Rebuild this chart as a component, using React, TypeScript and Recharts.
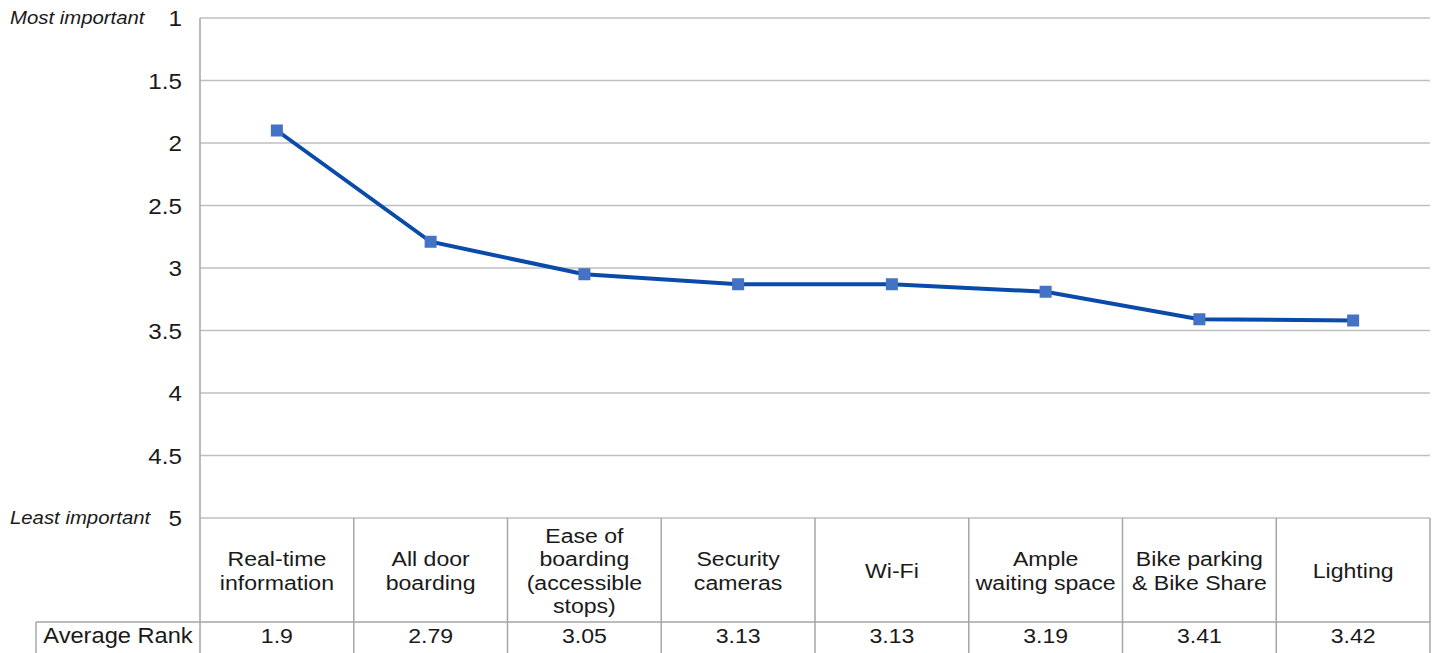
import React from "react";
import { LineChart, Line, XAxis, YAxis, CartesianGrid } from "recharts";

const categories = [
  "Real-time\ninformation",
  "All door\nboarding",
  "Ease of\nboarding\n(accessible\nstops)",
  "Security\ncameras",
  "Wi-Fi",
  "Ample\nwaiting space",
  "Bike parking\n& Bike Share",
  "Lighting",
];
const averageRank = [1.9, 2.79, 3.05, 3.13, 3.13, 3.19, 3.41, 3.42];
const rankTicks = [1, 1.5, 2, 2.5, 3, 3.5, 4, 4.5, 5];

const data = categories.map((name, i) => ({ name, rank: averageRank[i] }));

const FONT = "'Liberation Sans', Arial, Helvetica, sans-serif";
const GRID = "#bfbfbf";
const BORDER = "#a6a6a6";
const SX = 1.1;

// text slightly widened to match the reference's wide Helvetica rendering
const T = ({ x, y, size, anchor = "middle", italic = false, children }: any) => (
  <text
    transform={`translate(${x},${y}) scale(${SX},1)`}
    x={0}
    y={0}
    textAnchor={anchor}
    fontSize={size}
    fontStyle={italic ? "italic" : "normal"}
    fill="#1a1a1a"
    fontFamily={FONT}
  >
    {children}
  </text>
);

const YTick = (props: any) => {
  const { x, y, payload } = props;
  const v = payload.value;
  return (
    <g>
      {v === 1 && (
        <T x={10} y={y + 6} size={18.5} anchor="start" italic>
          Most important
        </T>
      )}
      {v === 5 && (
        <T x={10} y={y + 6} size={18.5} anchor="start" italic>
          Least important
        </T>
      )}
      <T x={x} y={y + 8} size={22} anchor="end">
        {v}
      </T>
    </g>
  );
};

const XTick = (props: any) => {
  const { x, y, payload, index } = props;
  const half = payload.offset || 76.875;
  const lines = String(payload.value).split("\n");
  const lh = 23.5;
  const cellH = 104;
  const rowH = 32;
  const startY = y + cellH / 2 - ((lines.length - 1) * lh) / 2 + 8;
  const last = index === categories.length - 1;
  return (
    <g>
      <line x1={x - half} y1={y} x2={x - half} y2={y + cellH + rowH + 10} stroke={BORDER} strokeWidth={1.5} />
      {last && (
        <line x1={x + half} y1={y} x2={x + half} y2={y + cellH + rowH + 10} stroke={BORDER} strokeWidth={1.5} />
      )}
      <line x1={x - half} y1={y + cellH} x2={x + half} y2={y + cellH} stroke={BORDER} strokeWidth={1.5} />
      {lines.map((l, i) => (
        <T key={i} x={x} y={startY + i * lh} size={21}>
          {l}
        </T>
      ))}
      <T x={x} y={y + cellH + 21} size={21}>
        {averageRank[index]}
      </T>
      {index === 0 && (
        <g>
          <line x1={36} y1={y + cellH} x2={x - half} y2={y + cellH} stroke={BORDER} strokeWidth={1.5} />
          <line x1={36} y1={y + cellH} x2={36} y2={y + cellH + rowH + 10} stroke={BORDER} strokeWidth={1.5} />
          <T x={(36 + x - half) / 2} y={y + cellH + 21} size={21.5}>
            Average Rank
          </T>
        </g>
      )}
    </g>
  );
};

export default function App() {
  return (
    <div style={{ position: "absolute", left: 0, top: 0, width: 1435, height: 653, background: "#fff" }}>
      <LineChart width={1435} height={653} data={data} margin={{ top: 18, right: 5, bottom: 0, left: 0 }}>
        <CartesianGrid vertical={false} stroke={GRID} strokeWidth={1.5} />
        <XAxis
          dataKey="name"
          scale="band"
          interval={0}
          height={135}
          tickSize={0}
          tickMargin={0}
          tickLine={false}
          axisLine={false}
          tick={<XTick />}
        />
        <YAxis
          type="number"
          domain={[1, 5]}
          ticks={rankTicks}
          reversed
          width={200}
          tickSize={0}
          tickMargin={18}
          tickLine={false}
          axisLine={{ stroke: BORDER, strokeWidth: 1.5 }}
          tick={<YTick />}
        />
        <Line
          dataKey="rank"
          stroke="#0a4aa8"
          strokeWidth={4}
          isAnimationActive={false}
          dot={(p: any) => (
            <rect key={p.index} x={p.cx - 6} y={p.cy - 6} width={12} height={12} fill="#4472c4" />
          )}
          activeDot={false}
        />
      </LineChart>
    </div>
  );
}
